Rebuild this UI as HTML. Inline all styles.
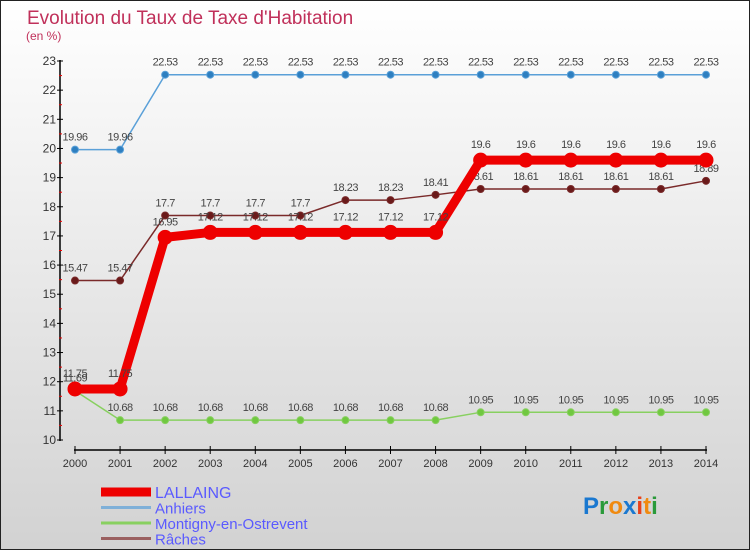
<!DOCTYPE html>
<html><head><meta charset="utf-8"><style>
body{margin:0;width:750px;height:550px;overflow:hidden}
#c{position:absolute;left:0;top:0;width:748px;height:548px;border:1px solid #222;background:linear-gradient(#ffffff,#d2d2d2)}
text{font-family:"Liberation Sans",sans-serif}
</style></head><body>
<div id="c">
<svg id="s" width="750" height="550" style="position:absolute;left:-1px;top:-1px"></svg>
</div>
<script>
const years=[2000,2001,2002,2003,2004,2005,2006,2007,2008,2009,2010,2011,2012,2013,2014];
const lallaing=[11.75,11.75,16.95,17.12,17.12,17.12,17.12,17.12,17.12,19.6,19.6,19.6,19.6,19.6,19.6];
const anhiers=[19.96,19.96,22.53,22.53,22.53,22.53,22.53,22.53,22.53,22.53,22.53,22.53,22.53,22.53,22.53];
const montigny=[11.69,10.68,10.68,10.68,10.68,10.68,10.68,10.68,10.68,10.95,10.95,10.95,10.95,10.95,10.95];
const raches=[15.47,15.47,17.7,17.7,17.7,17.7,18.23,18.23,18.41,18.61,18.61,18.61,18.61,18.61,18.89];
const yTicks=[10,11,12,13,14,15,16,17,18,19,20,21,22,23];
const seriesNames=["LALLAING","Anhiers","Montigny-en-Ostrevent","Râches"];
const NS="http://www.w3.org/2000/svg";
const s=document.getElementById('s');
function X(i){return 75+i*(706-75)/14}
function Y(v){return 440-(v-10)*(379/13)}
function el(t,a,txt){const e=document.createElementNS(NS,t);for(const k in a)e.setAttribute(k,a[k]);if(txt!==undefined)e.textContent=txt;s.appendChild(e);return e}
let t=el('text',{x:27,y:24,fill:'#c0305a','font-size':19},'Evolution du Taux de Taxe d\'Habitation');

t=el('text',{x:26,y:40,fill:'#c0305a','font-size':12},'(en %)');

let a=el('line',{x1:60,y1:60,x2:60,y2:441,stroke:'#000','stroke-width':1.5});

a=el('line',{x1:74,y1:450,x2:707,y2:450,stroke:'#000','stroke-width':1.5});

yTicks.forEach((v,k)=>{
 el('line',{x1:57,y1:Y(v),x2:63,y2:Y(v),stroke:'#000'});
 if(k<yTicks.length-1)el('line',{x1:59,y1:Y(v+0.5),x2:62,y2:Y(v+0.5),stroke:'#e00'});
 const l=el('text',{x:56,y:Y(v)+4,'text-anchor':'end','font-size':12,fill:'#333'},v);
 
});
years.forEach((yr,i)=>{
 el('line',{x1:X(i),y1:446,x2:X(i),y2:454,stroke:'#000'});
 const l=el('text',{x:X(i),y:467,'text-anchor':'middle','font-size':11,fill:'#333'},yr);
 
});
function series(data,color,w,r,name,fill){
 const p=el('polyline',{points:data.map((v,i)=>X(i)+','+Y(v)).join(' '),fill:'none',stroke:color,'stroke-width':w,'stroke-linejoin':'round'});
 
 data.forEach((v,i)=>{
  const c=el('circle',{cx:X(i),cy:Y(v),r:r,fill:fill,stroke:color,'stroke-width':1});
  
  const l=el('text',{x:X(i),y:Y(v)-9-(r>5?3:0),'text-anchor':'middle','font-size':11,fill:'#444','letter-spacing':'-0.5'},v);
  
 });
}
series(anhiers,'#5aa0d8',1.5,3.5,'anhiers','#2e7fc0');
series(raches,'#7a2a2a',1.5,3.5,'raches','#6a1a1a');
series(montigny,'#88d060',1.5,3.5,'montigny','#70c840');
series(lallaing,'#ee0000',9,7,'lallaing','#ee0000');
const lg=[['#ee0000',9],['#7fb0d8',3],['#88d060',3],['#9a6060',3]];
seriesNames.forEach((n,k)=>{
 const y=492+k*15.5;
 const l=el('line',{x1:101,y1:y,x2:151,y2:y,stroke:lg[k][0],'stroke-width':lg[k][1]});
 
 const tx=el('text',{x:155,y:y+6,'font-size':k==0?16:15,fill:'#5a5aff'},n);
 
});
const logo=el('text',{x:583,y:514,'font-size':24,'font-weight':'bold'});

[['P','#1a78d0'],['r','#2a9a3a'],['o','#f08a10'],['x','#1a78d0'],['i','#e8401a'],['t','#f08a10'],['i','#2a9a3a']].forEach(([ch,c])=>{const sp=document.createElementNS(NS,'tspan');sp.setAttribute('fill',c);sp.textContent=ch;logo.appendChild(sp)});
</script>
</body></html>
